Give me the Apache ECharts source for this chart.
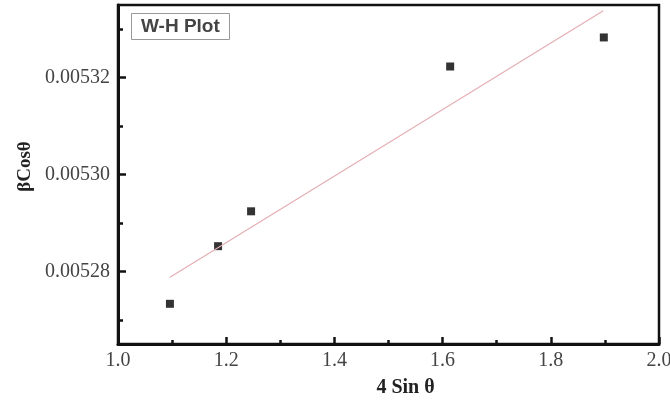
<!DOCTYPE html>
<html>
<head>
<meta charset="utf-8">
<script src="https://cdn.jsdelivr.net/npm/echarts@6/dist/echarts.min.js"></script>
<style>
  html, body { margin: 0; padding: 0; background: #fff; }
  #chart { width: 670px; height: 401px; }
</style>
</head>
<body>
<div id="chart"></div>
<script>
// measured points (4 sin theta, beta cos theta)
var sinX = [1.096, 1.185, 1.246, 1.614, 1.898]
var cosY = [0.0052733, 0.0052852, 0.0052924, 0.0053223, 0.0053283]

// linear fit, end points
var fitX = [1.096, 1.897]
var fitY = [0.0052788, 0.0053338]

var xTicks = [1.0, 1.2, 1.4, 1.6, 1.8, 2.0]
var yMajor = [0.00528, 0.00530, 0.00532]
var yMinor = [0.00527, 0.00529, 0.00531, 0.00533]

var serif = '"Liberation Serif", "Times New Roman", serif'

var points = sinX.map(function (x, i) { return [x, cosY[i]] })
var fit = fitX.map(function (x, i) { return [x, fitY[i]] })

var myChart = echarts.init(document.getElementById('chart'))

var option = {
    backgroundColor: '#fff',
    animation: false,
    title: {
        text: 'W-H Plot',
        left: 131,
        top: 13,
        padding: [4, 10],
        borderColor: '#999',
        borderWidth: 1,
        textStyle: {
            fontFamily: '"Liberation Sans", Arial, sans-serif',
            fontSize: 19,
            fontWeight: 'bold',
            color: '#444'
        }
    },
    grid: {
        left: 118,
        right: 11,
        top: 5,
        bottom: 57,
        outerBoundsMode: 'none',
        containLabel: false,
        show: true,
        borderColor: '#111',
        borderWidth: 2.5,
        backgroundColor: 'transparent'
    },
    xAxis: {
        type: 'value',
        min: 1.0,
        max: 2.0,
        interval: 0.2,
        name: '4 Sin θ',
        nameLocation: 'middle',
        nameGap: 34,
        nameTextStyle: { fontFamily: serif, fontSize: 20, fontWeight: 'bold', color: '#222', padding: [0, 0, 0, 34] },
        axisLine: { lineStyle: { color: '#111', width: 3 } },
        axisTick: { inside: true, length: 7, lineStyle: { color: '#111', width: 2.5 } },
        minorTick: { show: true, splitNumber: 2, length: 4, lineStyle: { color: '#111', width: 2.5 } },
        splitLine: { show: false },
        axisLabel: {
            fontFamily: serif,
            fontSize: 20,
            color: '#444',
            margin: 7,
            formatter: function (v) { return v.toFixed(1) }
        }
    },
    yAxis: [
        {
            type: 'value',
            min: 0.005265,
            max: 0.005335,
            name: 'βCosθ',
            nameLocation: 'middle',
            nameGap: 81,
            nameRotate: 90,
            nameTextStyle: { fontFamily: serif, fontSize: 19, fontWeight: 'bold', color: '#222', padding: [0, 0, 0, 16] },
            axisLine: { show: true, lineStyle: { color: '#111', width: 3 } },
            axisTick: { inside: true, length: 8, customValues: yMajor, lineStyle: { color: '#111', width: 2.5 } },
            splitLine: { show: false },
            axisLabel: {
                customValues: yMajor,
                fontFamily: serif,
                fontSize: 20,
                color: '#444',
                margin: 8,
                formatter: function (v) { return v.toFixed(5) }
            }
        },
        {
            type: 'value',
            position: 'left',
            min: 0.005265,
            max: 0.005335,
            axisLine: { show: false },
            axisTick: { show: true, inside: true, length: 5, customValues: yMinor, lineStyle: { color: '#111', width: 2.5 } },
            axisLabel: { show: false },
            splitLine: { show: false }
        }
    ],
    series: [
        {
            type: 'line',
            data: fit,
            symbol: 'none',
            lineStyle: { color: '#e4aeb4', width: 1.2 },
            silent: true
        },
        {
            type: 'scatter',
            data: points,
            symbol: 'rect',
            symbolSize: 8,
            itemStyle: { color: '#000' }
        }
    ]
}

myChart.setOption(option)
</script>
</body>
</html>
